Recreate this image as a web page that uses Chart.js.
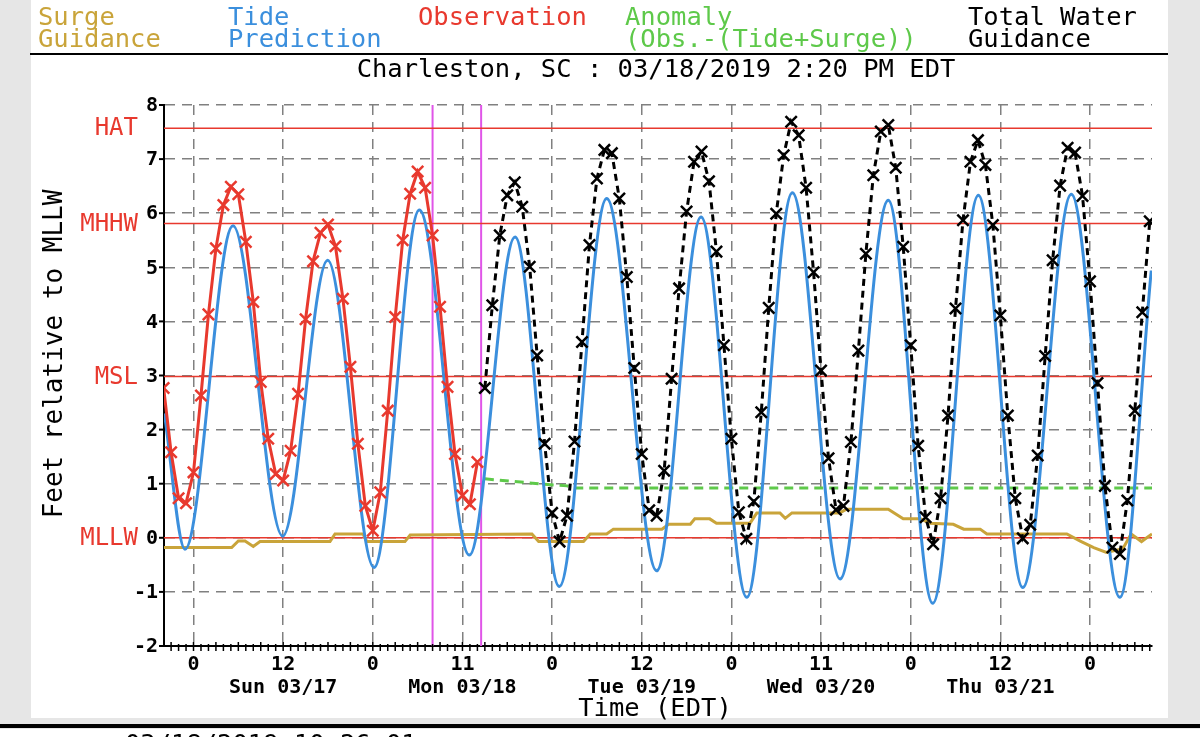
<!DOCTYPE html>
<html>
<head>
<meta charset="utf-8">
<title>Charleston, SC : 03/18/2019 2:20 PM EDT</title>
<script src="https://cdn.jsdelivr.net/npm/chart.js@4.4.1/dist/chart.umd.min.js"></script>
<style>
  html, body { margin: 0; padding: 0; background: #e6e6e6; }
  canvas { display: block; }
</style>
</head>
<body>
<canvas id="surgeChart" width="1200" height="737"></canvas>
<script>
// Hours are counted from Sun 03/17 00:00, feet are relative to MLLW
const X_MIN = -3.95;
const X_MAX = 128.3;

// Tide prediction: highs and lows
const tideHours = [-3.9, -1.14, 5.29, 11.94, 17.96, 24.16, 30.23, 36.92, 43.04, 48.97, 55.31, 62.0,
  67.94, 74.06, 80.16, 86.55, 93.0, 98.95, 105.06, 111.0, 117.5, 124.0, 128.2];
const tideFeet = [2.3, -0.21, 5.77, 0.03, 5.13, -0.55, 6.06, -0.32, 5.56, -0.9, 6.27, -0.61,
  5.93, -1.1, 6.38, -0.76, 6.24, -1.21, 6.33, -0.92, 6.35, -1.1, 4.94];

// Observation, one value an hour from hour -4 to hour 38
const obsStartHour = -4;
const obsFeet = [2.77, 1.58, 0.73, 0.64, 1.21, 2.63, 4.13, 5.35, 6.15, 6.49, 6.35, 5.47, 4.36, 2.88,
  1.83, 1.18, 1.06, 1.61, 2.66, 4.04, 5.11, 5.64, 5.79, 5.39, 4.42, 3.16, 1.74, 0.59, 0.13, 0.84,
  2.35, 4.08, 5.5, 6.36, 6.77, 6.47, 5.59, 4.27, 2.79, 1.55, 0.78, 0.62, 1.4];

// Total water guidance, one value an hour from hour 39 to hour 128
const totalStartHour = 39;
const totalFeet = [2.77, 4.3, 5.59, 6.33, 6.57, 6.12, 5.01, 3.37, 1.74, 0.46, -0.07, 0.41, 1.78,
  3.62, 5.41, 6.64, 7.17, 7.11, 6.27, 4.82, 3.14, 1.55, 0.51, 0.41, 1.24, 2.94, 4.61, 6.03, 6.95,
  7.14, 6.59, 5.29, 3.56, 1.83, 0.47, -0.02, 0.67, 2.32, 4.25, 5.99, 7.07, 7.69, 7.44, 6.47, 4.91,
  3.09, 1.47, 0.52, 0.59, 1.77, 3.46, 5.25, 6.7, 7.51, 7.63, 6.84, 5.38, 3.56, 1.7, 0.38, -0.12,
  0.73, 2.26, 4.24, 5.87, 6.95, 7.35, 6.89, 5.78, 4.11, 2.26, 0.73, -0.01, 0.24, 1.52, 3.36, 5.13,
  6.51, 7.21, 7.12, 6.32, 4.74, 2.86, 0.96, -0.18, -0.3, 0.69, 2.35, 4.17, 5.85];

// Anomaly (Obs.-(Tide+Surge))
const anomalyHours = [39, 43, 47, 50, 51, 128.3];
const anomalyFeet = [1.09, 1.04, 0.99, 0.96, 0.92, 0.92];

// Surge guidance
const surgeHours = [-3.95, 5.11, 6.0, 6.9, 8.0, 8.9, 18.27, 18.94, 22.7, 23.2, 28.3, 29.0, 45.3, 46.2,
  52.2, 53.1, 55.3, 56.2, 62.7, 63.6, 66.5, 67.1, 69.1, 70.0, 74.5, 75.4, 78.5, 79.2, 80.1, 86.5,
  87.4, 93.0, 95.0, 97.3, 98.6, 101.7, 103.1, 105.3, 106.2, 116.9, 118.7, 120.5, 122.2, 124.4,
  125.5, 126.9, 128.3];
const surgeFeet = [-0.18, -0.18, -0.06, -0.06, -0.16, -0.07, -0.07, 0.07, 0.07, -0.07, -0.07, 0.05,
  0.07, -0.07, -0.07, 0.07, 0.07, 0.16, 0.16, 0.25, 0.25, 0.35, 0.35, 0.27, 0.27, 0.46, 0.46, 0.36,
  0.46, 0.46, 0.53, 0.53, 0.35, 0.35, 0.27, 0.25, 0.16, 0.16, 0.07, 0.07, -0.06, -0.18, -0.27, -0.2,
  0.07, -0.07, 0.07];

// Tidal datums
const datumNames = ["HAT", "MHHW", "MSL", "MLLW"];
const datumFeet = [7.57, 5.81, 2.98, 0];

// Magenta time markers
const markerHours = [32.0, 38.5];

// Axis ticks and labels
const yTicks = [-2, -1, 0, 1, 2, 3, 4, 5, 6, 7, 8];
const gridHours = [0, 12, 24, 36, 48, 60, 72, 84, 96, 108, 120];
const hourLabels = ["0", "12", "0", "11", "0", "12", "0", "11", "0", "12", "0"];
const dayHours = [12, 36, 60, 84, 108];
const dayLabels = ["Sun 03/17", "Mon 03/18", "Tue 03/19", "Wed 03/20", "Thu 03/21"];

const GOLD = "#c9a43a";
const BLUE = "#3b8fdd";
const RED = "#e8392e";
const GREEN = "#5ec94a";
const MAGENTA = "#e055e8";
const MONO = '"DejaVu Sans Mono", monospace';

function toPoints(hours, values) {
  return hours.map((h, i) => ({ x: h, y: values[i] }));
}

function hourly(start, values) {
  return values.map((v, i) => ({ x: start + i, y: v }));
}

function drawText(ctx, text, x, y, font, color, align, baseline) {
  ctx.save();
  ctx.font = font;
  ctx.fillStyle = color;
  ctx.textAlign = align || "left";
  ctx.textBaseline = baseline || "alphabetic";
  ctx.fillText(text, x, y);
  ctx.restore();
}

// Page frame behind the chart
const framePlugin = {
  id: "frame",
  beforeDraw(chart) {
    const ctx = chart.ctx;
    ctx.save();
    ctx.fillStyle = "#e6e6e6";
    ctx.fillRect(0, 0, 1200, 737);
    ctx.fillStyle = "#ffffff";
    ctx.fillRect(31, 0, 1137, 718);
    ctx.fillRect(0, 729, 1200, 8);
    ctx.fillStyle = "#000000";
    ctx.fillRect(0, 724, 1200, 4);
    ctx.fillRect(30, 53, 1138, 2);
    ctx.restore();
  }
};

// Header, axis labels and tick marks
const labelsPlugin = {
  id: "labels",
  afterDraw(chart) {
    const ctx = chart.ctx;
    const xs = chart.scales.x;
    const ys = chart.scales.y;
    const area = chart.chartArea;

    const legend = [
      { lines: ["Surge", "Guidance"], x: 38, color: GOLD },
      { lines: ["Tide", "Prediction"], x: 228, color: BLUE },
      { lines: ["Observation"], x: 418, color: RED },
      { lines: ["Anomaly", "(Obs.-(Tide+Surge))"], x: 625, color: GREEN },
      { lines: ["Total Water", "Guidance"], x: 968, color: "#000" }
    ];
    legend.forEach(item => {
      item.lines.forEach((line, i) => {
        drawText(ctx, line, item.x, 25 + i * 22, "25.5px " + MONO, item.color);
      });
    });

    drawText(ctx, "Charleston, SC : 03/18/2019 2:20 PM EDT", 656, 77, "25.5px " + MONO, "#000", "center");

    // datum names on the left
    datumNames.forEach((name, i) => {
      drawText(ctx, name, 138, ys.getPixelForValue(datumFeet[i]) + 1, "24px " + MONO, RED, "right", "middle");
    });

    // y ticks
    ctx.save();
    ctx.strokeStyle = "#000";
    ctx.lineWidth = 2;
    yTicks.forEach(v => {
      const y = ys.getPixelForValue(v);
      ctx.beginPath();
      ctx.moveTo(area.left - 5, y);
      ctx.lineTo(area.left, y);
      ctx.stroke();
    });
    // hourly ticks along the time axis
    ctx.lineWidth = 1.5;
    for (let h = Math.ceil(X_MIN); h <= X_MAX; h++) {
      const x = xs.getPixelForValue(h);
      const up = h % 3 === 0 ? 4 : 2;
      ctx.beginPath();
      ctx.moveTo(x, area.bottom - up);
      ctx.lineTo(x, area.bottom + 5);
      ctx.stroke();
    }
    ctx.restore();

    yTicks.forEach(v => {
      drawText(ctx, String(v), 158, ys.getPixelForValue(v) + 1, "bold 20px " + MONO, "#000", "right", "middle");
    });

    gridHours.forEach((h, i) => {
      drawText(ctx, hourLabels[i], xs.getPixelForValue(h), 670, "bold 20px " + MONO, "#000", "center");
    });
    dayHours.forEach((h, i) => {
      drawText(ctx, dayLabels[i], xs.getPixelForValue(h), 693, "bold 20px " + MONO, "#000", "center");
    });

    drawText(ctx, "Time (EDT)", 655, 716, "25.5px " + MONO, "#000", "center");

    ctx.save();
    ctx.translate(62, 354);
    ctx.rotate(-Math.PI / 2);
    drawText(ctx, "Feet relative to MLLW", 0, 0, "26px " + MONO, "#000", "center");
    ctx.restore();

    drawText(ctx, "03/18/2019 10:26:01", 125, 752, "25.5px " + MONO, "#000");
  }
};

const datasets = [
  {
    label: "Total Water Guidance",
    data: hourly(totalStartHour, totalFeet),
    borderColor: "#000",
    borderWidth: 3,
    borderDash: [7, 5],
    pointStyle: "crossRot",
    pointRadius: 8,
    pointBorderWidth: 2.5,
    pointBorderColor: "#000",
    tension: 0,
    order: 0
  },
  {
    label: "Observation",
    data: hourly(obsStartHour, obsFeet),
    borderColor: RED,
    borderWidth: 3,
    pointStyle: "crossRot",
    pointRadius: 8,
    pointBorderWidth: 2.5,
    pointBorderColor: RED,
    tension: 0,
    order: 1
  },
  {
    label: "Tide Prediction",
    data: toPoints(tideHours, tideFeet),
    borderColor: BLUE,
    borderWidth: 3,
    pointRadius: 0,
    cubicInterpolationMode: "monotone",
    order: 2
  },
  {
    label: "Anomaly",
    data: toPoints(anomalyHours, anomalyFeet),
    borderColor: GREEN,
    borderWidth: 3,
    borderDash: [9, 6],
    pointRadius: 0,
    tension: 0,
    order: 3
  },
  {
    label: "Surge Guidance",
    data: toPoints(surgeHours, surgeFeet),
    borderColor: GOLD,
    borderWidth: 3,
    pointRadius: 0,
    tension: 0,
    order: 4
  }
];

datumFeet.forEach((v, i) => {
  datasets.push({
    label: datumNames[i],
    data: [{ x: X_MIN, y: v }, { x: X_MAX, y: v }],
    borderColor: RED,
    borderWidth: 1.5,
    pointRadius: 0,
    order: 5
  });
});

markerHours.forEach(h => {
  datasets.push({
    label: "marker",
    data: [{ x: h, y: -2 }, { x: h, y: 8 }],
    borderColor: MAGENTA,
    borderWidth: 2,
    pointRadius: 0,
    order: 6
  });
});

new Chart(document.getElementById("surgeChart"), {
  type: "line",
  data: { datasets: datasets },
  options: {
    responsive: false,
    animation: false,
    devicePixelRatio: 1,
    layout: { padding: { left: 164, right: 48, top: 105, bottom: 91 } },
    plugins: {
      legend: { display: false },
      tooltip: { enabled: false }
    },
    scales: {
      x: {
        type: "linear",
        min: X_MIN,
        max: X_MAX,
        afterBuildTicks: scale => { scale.ticks = gridHours.map(v => ({ value: v })); },
        ticks: { display: false },
        grid: { color: "#808080", lineWidth: 1.5, drawTicks: false },
        border: { display: true, color: "#000", width: 2, dash: [10, 7] }
      },
      y: {
        type: "linear",
        min: -2,
        max: 8,
        afterBuildTicks: scale => { scale.ticks = yTicks.map(v => ({ value: v })); },
        ticks: { display: false },
        grid: { color: "#808080", lineWidth: 1.5, drawTicks: false },
        border: { display: true, color: "#000", width: 2, dash: [10, 7] }
      }
    }
  },
  plugins: [framePlugin, labelsPlugin]
});
</script>
</body>
</html>
